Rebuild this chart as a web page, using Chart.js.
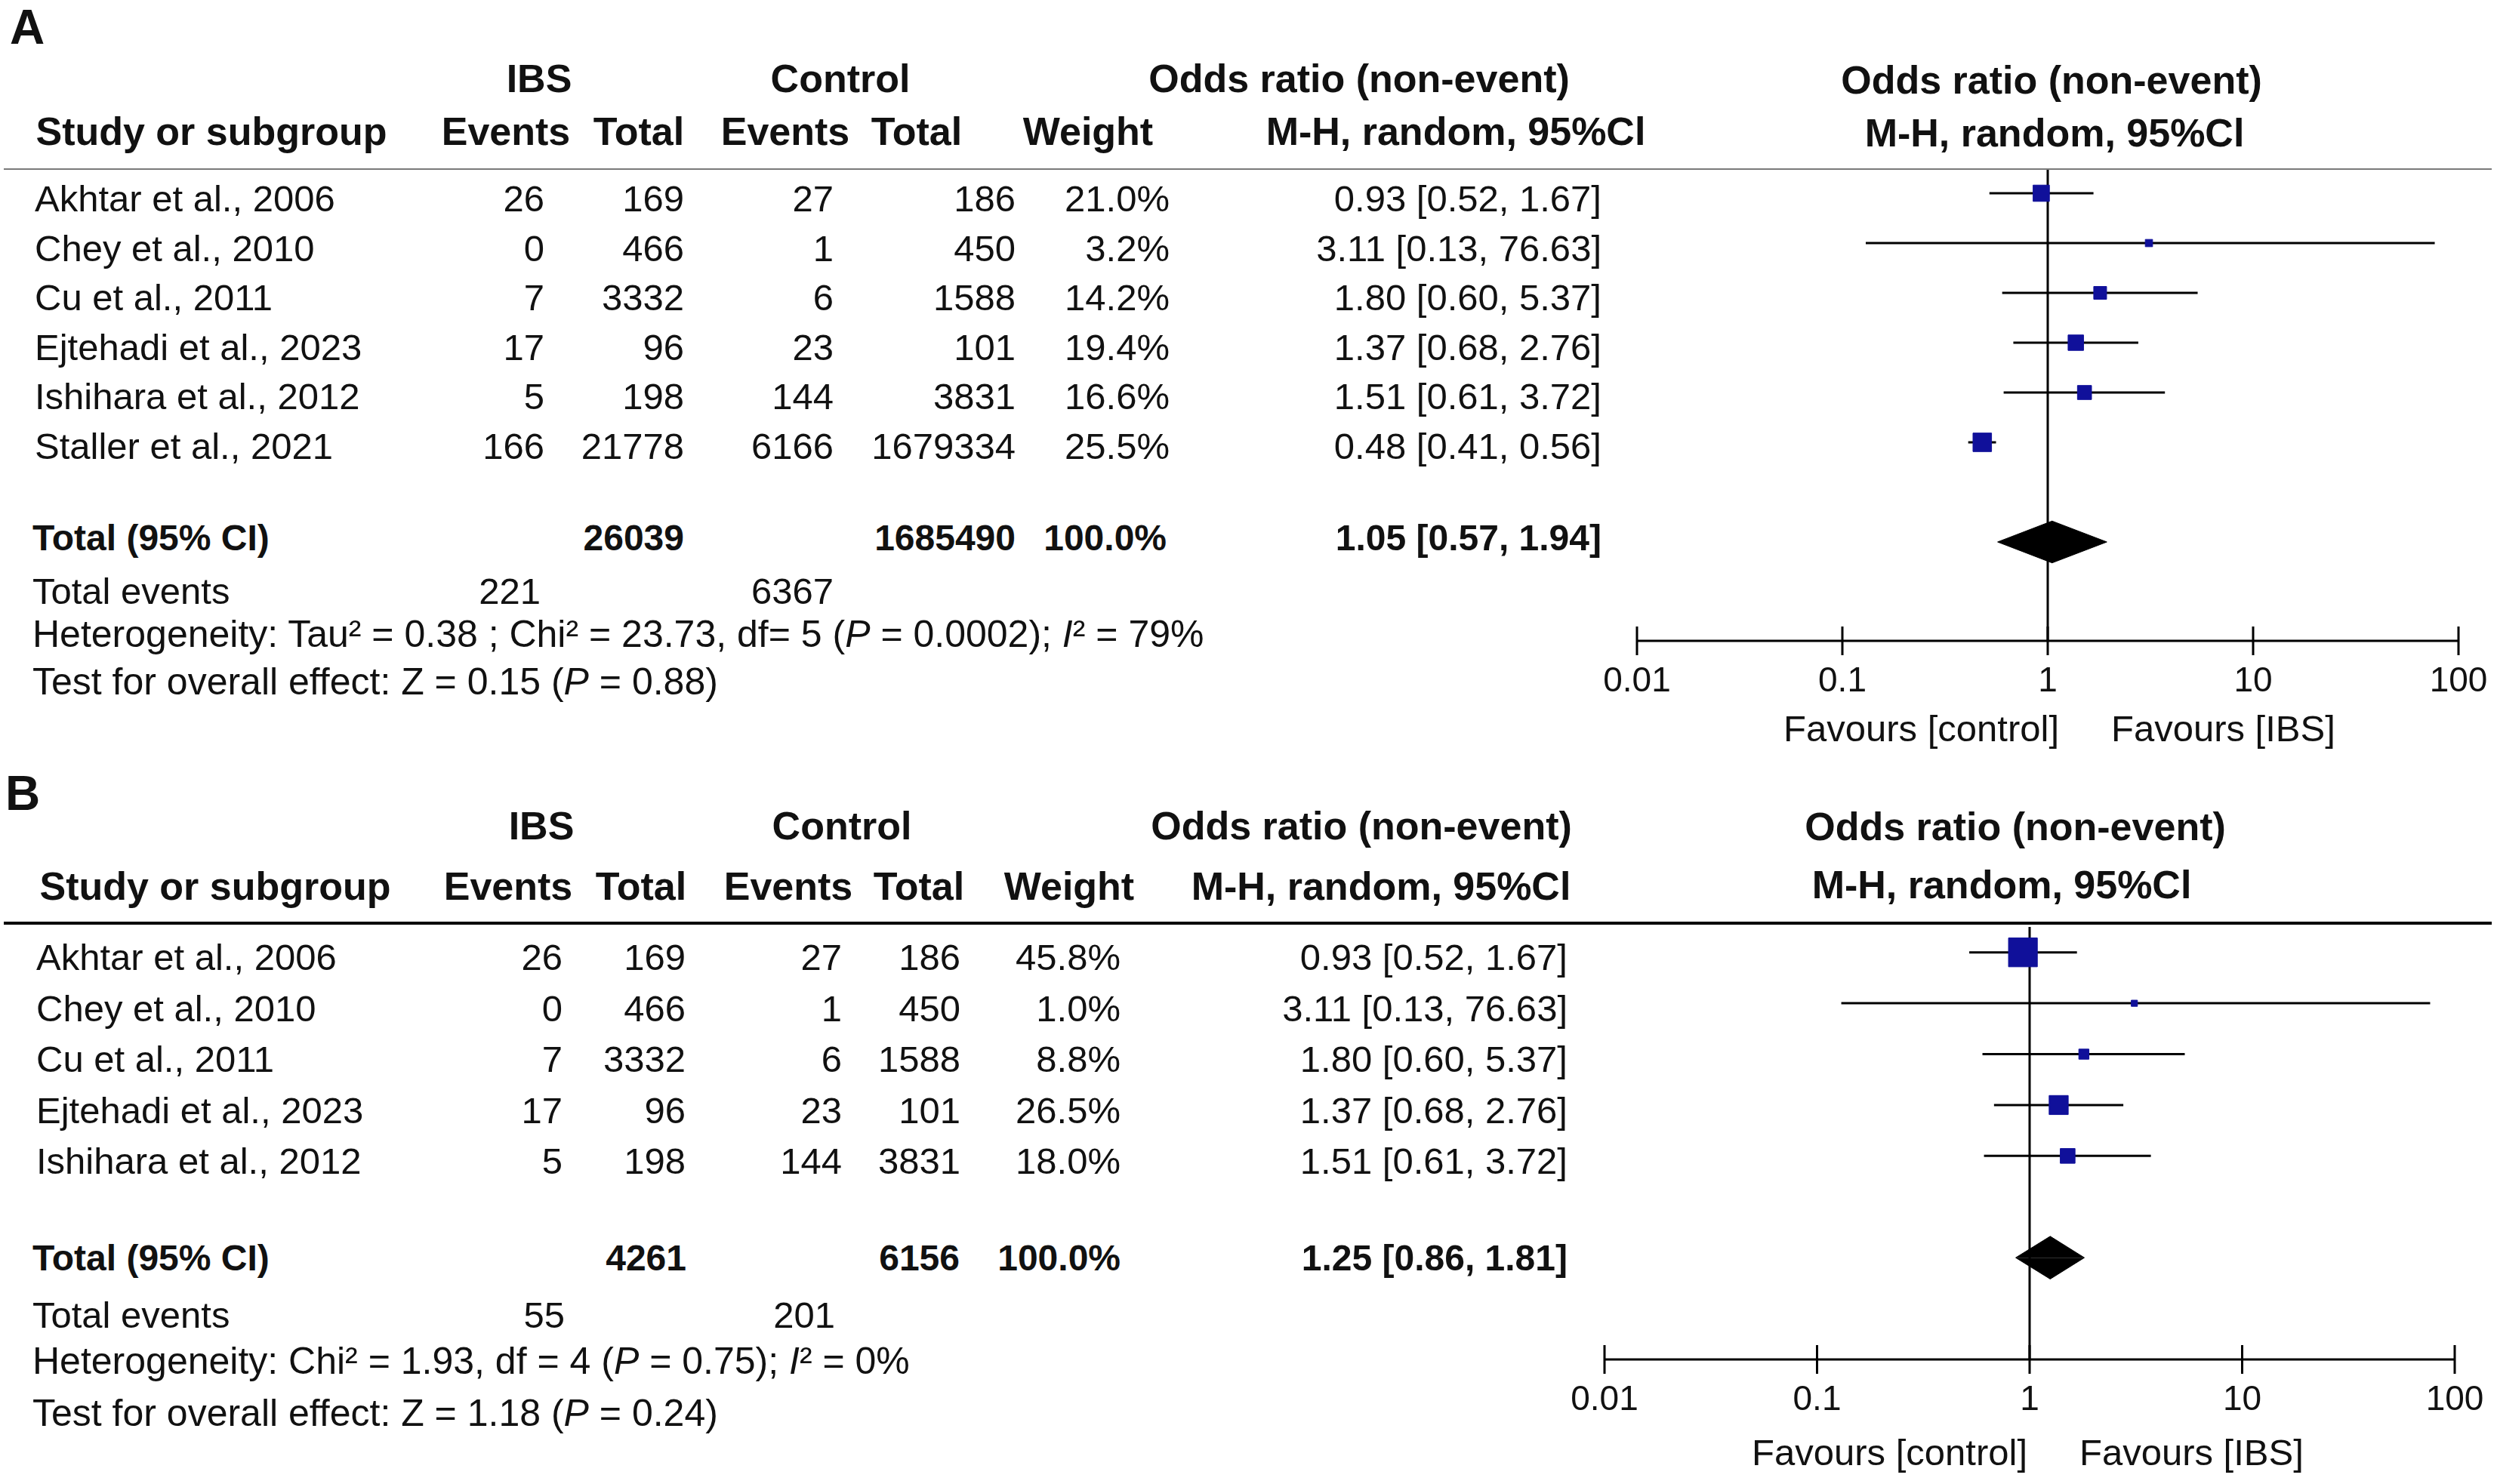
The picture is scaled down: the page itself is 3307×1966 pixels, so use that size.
<!DOCTYPE html>
<html>
<head>
<meta charset="utf-8">
<script src="https://cdn.jsdelivr.net/npm/chart.js@4.4.1/dist/chart.umd.min.js"></script>
<style>
  html, body { margin: 0; padding: 0; background: #fff; }
  #page { position: relative; width: 3307px; height: 1966px; overflow: hidden; background: #fff; }
  .t { position: absolute; white-space: nowrap; line-height: 1; font-family: 'Liberation Sans', Arial, sans-serif; color: #111; }
  .reg { font-size: 49px; }
  .foot { font-size: 50px; }
  .hd { font-size: 52px; font-weight: bold; }
  .tot { font-size: 48px; font-weight: bold; }
  .lab { font-size: 64px; font-weight: bold; }
  .rule { position: absolute; left: 5px; width: 3295px; }
  canvas { position: absolute; }
</style>
</head>
<body>
<div id="page">
  <canvas id="plotA" width="1267" height="749" style="left:2040px;top:200px;width:1267px;height:749px"></canvas>
  <canvas id="plotB" width="1307" height="701" style="left:2000px;top:1200px;width:1307px;height:701px"></canvas>
</div>
<script>
// ---- data : panel A ----
const studiesA = ['Akhtar et al., 2006', 'Chey et al., 2010', 'Cu et al., 2011',
                  'Ejtehadi et al., 2023', 'Ishihara et al., 2012', 'Staller et al., 2021'];
const ibsEventsA = [26, 0, 7, 17, 5, 166];
const ibsTotalA = [169, 466, 3332, 96, 198, 21778];
const ctrlEventsA = [27, 1, 6, 23, 144, 6166];
const ctrlTotalA = [186, 450, 1588, 101, 3831, 1679334];
const weightA = [21.0, 3.2, 14.2, 19.4, 16.6, 25.5];
const orA = [0.93, 3.11, 1.80, 1.37, 1.51, 0.48];
const loA = [0.52, 0.13, 0.60, 0.68, 0.61, 0.41];
const hiA = [1.67, 76.63, 5.37, 2.76, 3.72, 0.56];
const pooledA = [1.05, 0.57, 1.94];        // OR, lower, upper
const totalsA = [26039, 1685490];          // IBS, control
const totalEventsA = [221, 6367];
const hetA = 'Heterogeneity: Tau² = 0.38 ; Chi² = 23.73, df= 5 (<i>P</i> = 0.0002); <i>I</i>² = 79%';
const testA = 'Test for overall effect: Z = 0.15 (<i>P</i> = 0.88)';

// ---- data : panel B ----
const studiesB = ['Akhtar et al., 2006', 'Chey et al., 2010', 'Cu et al., 2011',
                  'Ejtehadi et al., 2023', 'Ishihara et al., 2012'];
const ibsEventsB = [26, 0, 7, 17, 5];
const ibsTotalB = [169, 466, 3332, 96, 198];
const ctrlEventsB = [27, 1, 6, 23, 144];
const ctrlTotalB = [186, 450, 1588, 101, 3831];
const weightB = [45.8, 1.0, 8.8, 26.5, 18.0];
const orB = [0.93, 3.11, 1.80, 1.37, 1.51];
const loB = [0.52, 0.13, 0.60, 0.68, 0.61];
const hiB = [1.67, 76.63, 5.37, 2.76, 3.72];
const pooledB = [1.25, 0.86, 1.81];
const totalsB = [4261, 6156];
const totalEventsB = [55, 201];
const hetB = 'Heterogeneity: Chi² = 1.93, df = 4 (<i>P</i> = 0.75); <i>I</i>² = 0%';
const testB = 'Test for overall effect: Z = 1.18 (<i>P</i> = 0.24)';

// axis
const tickValues = [0.01, 0.1, 1, 10, 100];
const tickLabels = ['0.01', '0.1', '1', '10', '100'];

const BLUE = '#10109a';
const FONT = "'Liberation Sans', Arial, sans-serif";

// ---- layout (page pixels) ----
const layoutA = {
  tag: 'A', tagX: 13, tagY: 36,
  h1: 104, h2: 174, rule: 224, ruleH: 2, ruleColor: '#7a7a7a',
  groupX: [714, 1113, 1800],
  headX: [280, 670, 846, 1040, 1214, 1441, 1928],
  plotHeadX: [2717, 2721], plotHeadY: [106, 176],
  nameX: 46, row0: 263, pitch: 65.6,
  colR: [721, 906, 1104, 1345, 1549, 2121],
  totalY: 713, totalR: [906, 1345, 1545, 2121],
  eventsY: 783, eventsR: [716, 1104],
  footX: 43, hetY: 840, testY: 903,
  favY: 965, favCtrlR: 2727, favIbsL: 2796,
  pad: { top: 24, left: 128, right: 51, bottom: 0 },
  yMin: -0.485, yMax: 8.985
};
const layoutB = {
  tag: 'B', tagX: 7, tagY: 1051,
  h1: 1094, h2: 1174, rule: 1223, ruleH: 4, ruleColor: '#000',
  groupX: [717, 1115, 1803],
  headX: [285, 673, 849, 1044, 1217, 1416, 1829],
  plotHeadX: [2669, 2651], plotHeadY: [1095, 1172],
  nameX: 48, row0: 1268, pitch: 67.5,
  colR: [745, 908, 1115, 1272, 1484, 2076],
  totalY: 1667, totalR: [909, 1271, 1484, 2076],
  eventsY: 1742, eventsR: [748, 1106],
  footX: 43, hetY: 1803, testY: 1872,
  favY: 1924, favCtrlR: 2685, favIbsL: 2754,
  pad: { top: 25, left: 125, right: 56, bottom: 0 },
  yMin: -0.5, yMax: 8.0
};

const page = document.getElementById('page');

function put(html, x, y, align, cls) {
  const el = document.createElement('div');
  el.className = 't ' + cls;
  el.innerHTML = html;
  el.style.left = x + 'px';
  el.style.top = y + 'px';
  const tx = align === 'r' ? '-100%' : align === 'c' ? '-50%' : '0';
  el.style.transform = 'translate(' + tx + ', -50%)';
  page.appendChild(el);
}

function ciText(o, l, h) {
  return o.toFixed(2) + ' [' + l.toFixed(2) + ', ' + h.toFixed(2) + ']';
}

function buildTable(d, L) {
  put(L.tag, L.tagX, L.tagY, 'l', 'lab');
  ['IBS', 'Control', 'Odds ratio (non-event)'].forEach((h, i) => put(h, L.groupX[i], L.h1, 'c', 'hd'));
  ['Study or subgroup', 'Events', 'Total', 'Events', 'Total', 'Weight', 'M-H, random, 95%Cl']
    .forEach((h, i) => put(h, L.headX[i], L.h2, 'c', 'hd'));
  put('Odds ratio (non-event)', L.plotHeadX[0], L.plotHeadY[0], 'c', 'hd');
  put('M-H, random, 95%Cl', L.plotHeadX[1], L.plotHeadY[1], 'c', 'hd');

  const rule = document.createElement('div');
  rule.className = 'rule';
  rule.style.top = (L.rule - L.ruleH / 2) + 'px';
  rule.style.height = L.ruleH + 'px';
  rule.style.background = L.ruleColor;
  page.appendChild(rule);

  d.names.forEach((nm, i) => {
    const y = L.row0 + i * L.pitch;
    put(nm, L.nameX, y, 'l', 'reg');
    const cells = [d.ibsEv[i], d.ibsTot[i], d.ctEv[i], d.ctTot[i],
                   d.weight[i].toFixed(1) + '%', ciText(d.or[i], d.lo[i], d.hi[i])];
    cells.forEach((c, j) => put(String(c), L.colR[j], y, 'r', 'reg'));
  });

  put('Total (95% CI)', L.footX, L.totalY, 'l', 'tot');
  const tot = [d.totals[0], d.totals[1], '100.0%', ciText(d.pooled[0], d.pooled[1], d.pooled[2])];
  tot.forEach((c, j) => put(String(c), L.totalR[j], L.totalY, 'r', 'tot'));

  put('Total events', L.footX, L.eventsY, 'l', 'reg');
  d.events.forEach((c, j) => put(String(c), L.eventsR[j], L.eventsY, 'r', 'reg'));
  put(d.het, L.footX, L.hetY, 'l', 'foot');
  put(d.test, L.footX, L.testY, 'l', 'foot');

  put('Favours [control]', L.favCtrlR, L.favY, 'r', 'reg');
  put('Favours [IBS]', L.favIbsL, L.favY, 'l', 'reg');
}

// axis line with ticks crossing it, placed with the x scale
const forestAxis = {
  id: 'forestAxis',
  afterDraw(chart) {
    const xs = chart.scales.x;
    const y = xs.top;
    const ctx = chart.ctx;
    ctx.save();
    ctx.strokeStyle = '#000';
    ctx.lineWidth = 3;
    ctx.beginPath();
    ctx.moveTo(xs.getPixelForValue(tickValues[0]), y);
    ctx.lineTo(xs.getPixelForValue(tickValues[tickValues.length - 1]), y);
    tickValues.forEach(v => {
      const p = xs.getPixelForValue(v);
      ctx.moveTo(p, y - 19);
      ctx.lineTo(p, y + 19);
    });
    ctx.stroke();
    ctx.restore();
  }
};

function boxSide(w) { return 7.5 + 0.67 * w; }

function buildPlot(id, d, L) {
  const datasets = [];
  datasets.push({
    data: d.or.map((v, i) => ({ x: v, y: i })),
    showLine: false,
    pointStyle: 'rect',
    pointRadius: d.weight.map(w => boxSide(w) / Math.SQRT2),
    pointBackgroundColor: BLUE,
    pointBorderColor: BLUE,
    pointBorderWidth: 1,
    order: 0
  });
  d.or.forEach((v, i) => {
    datasets.push({
      data: [{ x: d.lo[i], y: i }, { x: d.hi[i], y: i }],
      borderColor: '#000', borderWidth: 3, pointRadius: 0, order: 2
    });
  });
  const t = d.names.length + 1;
  [-0.42, 0.42].forEach(h => {
    datasets.push({
      data: [{ x: d.pooled[1], y: t }, { x: d.pooled[0], y: t + h }, { x: d.pooled[2], y: t }],
      borderColor: '#000', backgroundColor: '#000', borderWidth: 1,
      pointRadius: 0, tension: 0, fill: { value: t }, order: 1
    });
  });
  datasets.push({
    data: [{ x: 1, y: L.yMin }, { x: 1, y: L.yMax }],
    borderColor: '#000', borderWidth: 3, pointRadius: 0, order: 3
  });

  new Chart(document.getElementById(id), {
    type: 'line',
    data: { datasets: datasets },
    options: {
      responsive: false,
      animation: false,
      events: [],
      layout: { padding: L.pad },
      plugins: { legend: { display: false }, tooltip: { enabled: false } },
      scales: {
        x: {
          type: 'logarithmic', min: 0.01, max: 100,
          afterBuildTicks: s => { s.ticks = tickValues.map(v => ({ value: v })); },
          afterFit: s => { s.height = 100; },
          grid: { display: true, drawOnChartArea: false, color: 'rgba(0,0,0,0)', tickLength: 19 },
          border: { display: false },
          ticks: {
            autoSkip: false, maxRotation: 0, padding: 8, color: '#111',
            font: { family: FONT, size: 46 },
            callback: (v, i) => tickLabels[i]
          }
        },
        y: { type: 'linear', reverse: true, min: L.yMin, max: L.yMax, display: false }
      }
    },
    plugins: [forestAxis]
  });
}

const panelA = {
  names: studiesA, ibsEv: ibsEventsA, ibsTot: ibsTotalA, ctEv: ctrlEventsA, ctTot: ctrlTotalA,
  weight: weightA, or: orA, lo: loA, hi: hiA, pooled: pooledA, totals: totalsA,
  events: totalEventsA, het: hetA, test: testA
};
const panelB = {
  names: studiesB, ibsEv: ibsEventsB, ibsTot: ibsTotalB, ctEv: ctrlEventsB, ctTot: ctrlTotalB,
  weight: weightB, or: orB, lo: loB, hi: hiB, pooled: pooledB, totals: totalsB,
  events: totalEventsB, het: hetB, test: testB
};

buildTable(panelA, layoutA);
buildTable(panelB, layoutB);
buildPlot('plotA', panelA, layoutA);
buildPlot('plotB', panelB, layoutB);
</script>
</body>
</html>
